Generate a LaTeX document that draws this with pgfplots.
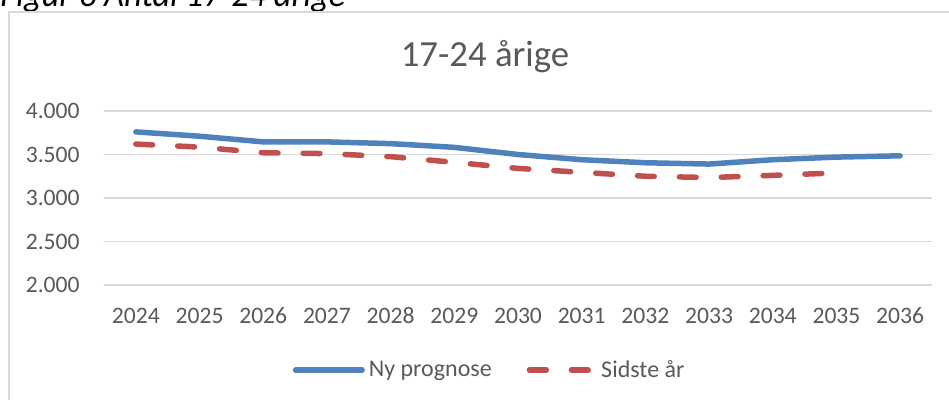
\documentclass[border=0pt]{standalone}
\usepackage{fontspec}
\setmainfont{Carlito}
\usepackage{pgfplots}
\pgfplotsset{compat=1.18}
\definecolor{nyblue}{HTML}{4F81BD}
\definecolor{sidstered}{HTML}{C0504D}
\definecolor{txtgray}{HTML}{595959}
\definecolor{gridgray}{HTML}{D9D9D9}

\begin{document}
\begin{tikzpicture}
% 1 px of the reference = 0.5pt
\useasboundingbox (0pt,0pt) rectangle (474.5pt,-200pt);
\clip (0pt,0pt) rectangle (474.5pt,-200pt);
\node[anchor=base west, inner sep=0pt, font=\fontsize{17.2}{20}\selectfont\itshape] at (0pt,-3.5pt) {Figur 6 Antal 17-24 årige};
\draw[gridgray, line width=0.75pt] (4.5pt,-210pt) -- (4.5pt,-6pt) -- (480pt,-6pt);
\node[anchor=base, inner sep=0pt, text=txtgray, font=\fontsize{18.4}{21}\selectfont] at (242.5pt,-33.5pt) {17-24 årige};
\begin{axis}[
  at={(52pt,-142.5pt)}, anchor=south west,
  scale only axis, width=414pt, height=87pt,
  xmin=-0.5, xmax=12.5, ymin=2000, ymax=4000,
  axis line style={draw=none}, major tick length=0pt,
  xtick={0,...,12},
  xticklabels={2024,2025,2026,2027,2028,2029,2030,2031,2032,2033,2034,2035,2036},
  ytick={2000,2500,3000,3500,4000},
  yticklabels={2.000,2.500,3.000,3.500,4.000},
  ymajorgrids, grid style={gridgray, line width=0.75pt},
  tick label style={text=txtgray, font=\fontsize{11.8}{14}\selectfont, inner sep=0pt},
  yticklabel style={anchor=east, xshift=-12pt},
  xticklabel style={anchor=center, yshift=-15.5pt},
  legend style={at={(0.467,-0.489)}, anchor=center, draw=none, fill=none,
    legend columns=2, font=\fontsize{12}{14}\selectfont, text=txtgray,
    /tikz/every even column/.append style={column sep=15.5pt}},
]
\addplot[nyblue, line width=2.75pt, line cap=round, line join=round,
  legend image code/.code={\draw[nyblue, line width=2.75pt, line cap=round]
    (0pt,0pt) -- (33.25pt,0pt);}]
  coordinates {
  (0,3760) (1,3710) (2,3645) (3,3645) (4,3625) (5,3582) (6,3500)
  (7,3440) (8,3405) (9,3390) (10,3440) (11,3470) (12,3485)
};
\addlegendentry{Ny prognose}
\addplot[sidstered, line width=2.75pt, line cap=round, line join=round,
  dash pattern=on 8.4pt off 12.55pt,
  legend image code/.code={\draw[sidstered, line width=2.75pt, line cap=round,
    dash pattern=on 8.4pt off 12.55pt] (0pt,0pt) -- (32.5pt,0pt);}]
  coordinates {
  (0,3620) (1,3585) (2,3520) (3,3510) (4,3475) (5,3410) (6,3340)
  (7,3295) (8,3250) (9,3235) (10,3260) (11,3288)
};
\addlegendentry{Sidste år}
\end{axis}
\end{tikzpicture}
\end{document}
